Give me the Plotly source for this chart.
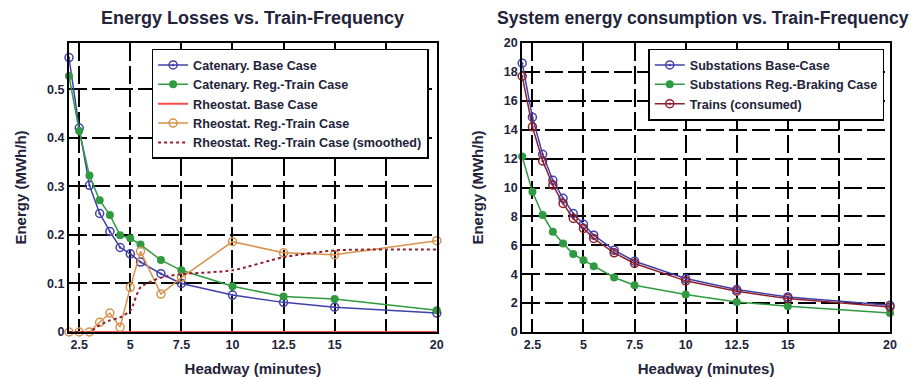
import plotly.graph_objects as go
from plotly.subplots import make_subplots

headway = [2, 2.5, 3, 3.5, 4, 4.5, 5, 5.5, 6.5, 7.5, 10, 12.5, 15, 20]

# Left panel: energy losses (MWh/h)
cat_base = [0.565, 0.42, 0.302, 0.244, 0.207, 0.174, 0.161, 0.144, 0.12, 0.10, 0.076, 0.061, 0.051, 0.039]
cat_reg = [0.527, 0.414, 0.322, 0.271, 0.241, 0.199, 0.193, 0.18, 0.148, 0.127, 0.094, 0.073, 0.068, 0.045]
rh_base = [0, 0, 0, 0, 0, 0, 0, 0, 0, 0, 0, 0, 0, 0]
rh_reg = [0, 0, 0, 0.02, 0.039, 0.01, 0.092, 0.166, 0.078, 0.112, 0.186, 0.163, 0.159, 0.188]
rh_reg_smooth = [0, 0, 0, 0.014, 0.024, 0.03, 0.044, 0.092, 0.112, 0.119, 0.127, 0.154, 0.168, 0.17]

# Right panel: system energy consumption (MWh/h)
sub_base = [18.6, 14.87, 12.3, 10.5, 9.25, 8.2, 7.45, 6.7, 5.66, 4.9, 3.7, 2.94, 2.43, 1.85]
sub_reg = [12.14, 9.7, 8.1, 6.94, 6.13, 5.39, 4.97, 4.55, 3.77, 3.24, 2.59, 2.08, 1.78, 1.32]
trains = [17.7, 14.2, 11.84, 10.17, 8.9, 7.86, 7.17, 6.47, 5.48, 4.74, 3.54, 2.82, 2.31, 1.73]

x_tickvals = [2.5, 5, 7.5, 10, 12.5, 15, 17.5, 20]
x_ticktext = ["2.5", "5", "7.5", "10", "12.5", "15", "", "20"]

left_titles = ["Catenary. Base Case", "Catenary. Reg.-Train Case", "Rheostat. Base Case",
               "Rheostat. Reg.-Train Case", "Rheostat. Reg.-Train Case (smoothed)"]
right_titles = ["Substations Base-Case", "Substations Reg.-Braking Case", "Trains (consumed)"]
panel_titles = ["Energy Losses vs. Train-Frequency", "System energy consumption vs. Train-Frequency"]

BLUE = "#4040aa"
GREEN = "#2f9a3f"
RED = "#ff4a4a"
ORANGE = "#d8924c"
DARKRED = "#8e1f2c"
TXT = "#23233a"

fig = make_subplots(rows=1, cols=2, horizontal_spacing=0.104)

fig.add_trace(go.Scatter(x=headway, y=cat_base, name=left_titles[0], mode="lines+markers",
                         line=dict(color=BLUE, width=1.5), cliponaxis=False,
                         marker=dict(symbol="circle-open-dot", size=8, color=BLUE, line=dict(width=1.5)),
                         legend="legend"), row=1, col=1)
fig.add_trace(go.Scatter(x=headway, y=cat_reg, name=left_titles[1], mode="lines+markers",
                         line=dict(color=GREEN, width=1.5), cliponaxis=False,
                         marker=dict(symbol="circle", size=8, color=GREEN),
                         legend="legend"), row=1, col=1)
fig.add_trace(go.Scatter(x=headway, y=rh_base, name=left_titles[2], mode="lines",
                         line=dict(color=RED, width=2), cliponaxis=False,
                         legend="legend"), row=1, col=1)
fig.add_trace(go.Scatter(x=headway, y=rh_reg, name=left_titles[3], mode="lines+markers",
                         line=dict(color=ORANGE, width=1.5), cliponaxis=False,
                         marker=dict(symbol="circle-open", size=8, color=ORANGE, line=dict(width=1.5)),
                         legend="legend"), row=1, col=1)
fig.add_trace(go.Scatter(x=headway, y=rh_reg_smooth, name=left_titles[4], mode="lines",
                         line=dict(color=DARKRED, width=2, dash="dot", shape="spline", smoothing=0.6),
                         legend="legend"), row=1, col=1)

fig.add_trace(go.Scatter(x=headway, y=sub_base, name=right_titles[0], mode="lines+markers",
                         line=dict(color=BLUE, width=1.5), cliponaxis=False,
                         marker=dict(symbol="circle-open-dot", size=8, color=BLUE, line=dict(width=1.5)),
                         legend="legend2"), row=1, col=2)
fig.add_trace(go.Scatter(x=headway, y=sub_reg, name=right_titles[1], mode="lines+markers",
                         line=dict(color=GREEN, width=1.5), cliponaxis=False,
                         marker=dict(symbol="circle", size=8, color=GREEN),
                         legend="legend2"), row=1, col=2)
fig.add_trace(go.Scatter(x=headway, y=trains, name=right_titles[2], mode="lines+markers",
                         line=dict(color=DARKRED, width=1.5), cliponaxis=False,
                         marker=dict(symbol="circle-open-dot", size=8, color=DARKRED, line=dict(width=1.5)),
                         legend="legend2"), row=1, col=2)

axis_common = dict(showline=True, linecolor="black", linewidth=2, mirror=True,
                   showgrid=True, gridcolor="black", gridwidth=1.8, griddash="18px,5px",
                   zeroline=False, ticks="", tickfont=dict(family="Liberation Sans, Arial", size=12.5, color=TXT))

for c in (1, 2):
    fig.update_xaxes(range=[2, 20], tickmode="array", tickvals=x_tickvals, ticktext=x_ticktext,
                     title=dict(text="<b>Headway (minutes)</b>", font=dict(size=15, color=TXT), standoff=12),
                     row=1, col=c, **axis_common)

fig.update_yaxes(range=[0, 0.595], dtick=0.1, tick0=0,
                 title=dict(text="<b>Energy (MWh/h)</b>", font=dict(size=15, color=TXT), standoff=17),
                 row=1, col=1, **axis_common)
fig.update_yaxes(range=[0, 20], dtick=2, tick0=0,
                 title=dict(text="<b>Energy (MWh/h)</b>", font=dict(size=15, color=TXT), standoff=17),
                 row=1, col=2, **axis_common)

legend_common = dict(bgcolor="white", bordercolor="black", borderwidth=1.5,
                     font=dict(family="Liberation Sans, Arial", size=12.6, color=TXT),
                     xanchor="right", yanchor="top", itemwidth=30, tracegroupgap=0,
                     itemclick=False)

fig.update_layout(
    width=923, height=379,
    margin=dict(l=57, r=41, t=35, b=55),
    paper_bgcolor="white", plot_bgcolor="white",
    font=dict(family="Liberation Sans, Arial", color=TXT, weight="bold"),
    legend=dict(x=0.438, y=0.98, **legend_common),
    legend2=dict(x=0.993, y=0.98, **legend_common),
    annotations=[
        dict(text="<b>" + panel_titles[0] + "</b>", x=0.224, y=1.0, xref="paper", yref="paper",
             yshift=25, showarrow=False, font=dict(size=18, color=TXT), xanchor="center", yanchor="middle"),
        dict(text="<b>" + panel_titles[1] + "</b>", x=0.772, y=1.0, xref="paper", yref="paper",
             yshift=25, showarrow=False, font=dict(size=17.6, color=TXT), xanchor="center", yanchor="middle"),
    ],
)

fig.write_html("out.html")
